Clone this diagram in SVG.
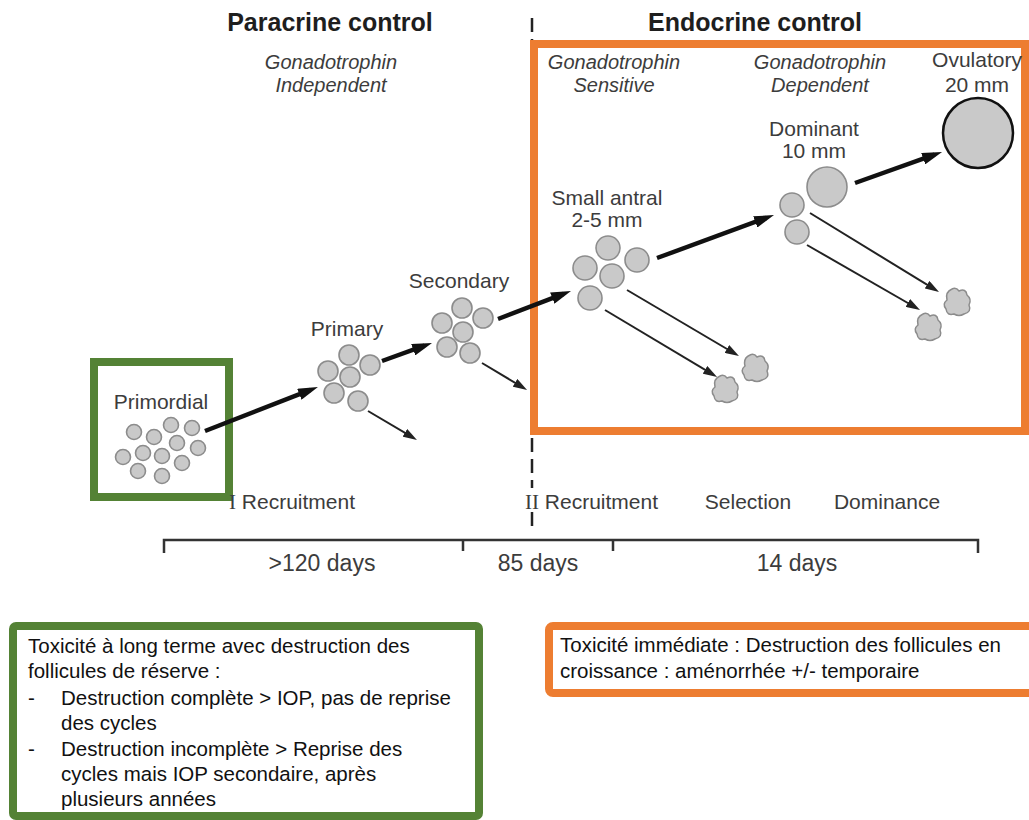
<svg xmlns="http://www.w3.org/2000/svg" xmlns:xlink="http://www.w3.org/1999/xlink" width="1029" height="820" viewBox="0 0 1029 820">
<style>
text{font-family:"Liberation Sans",Arial,sans-serif}
.title{font-size:25px;font-weight:bold;fill:#1e1e1e;text-anchor:middle}
.hdr{font-size:20px;font-style:italic;fill:#3c3c3c;text-anchor:middle}
.lbl{font-size:21px;fill:#3c3c3c;text-anchor:middle}
.row{font-size:21px;fill:#3c3c3c}
.rn{font-family:"Liberation Serif","Times New Roman",serif;font-size:21px}
.days{font-size:23px;fill:#3c3c3c;text-anchor:middle}
.box{font-size:20.5px;fill:#111}
.f{fill:#c9c9c9;stroke:#8c8c8c;stroke-width:1.6}
.thick{stroke:#111;stroke-width:4.5;fill:none;marker-end:url(#hb)}
.thin{stroke:#222;stroke-width:2;fill:none;marker-end:url(#ht)}
.gbox{fill:none;stroke:#548235;stroke-width:8}
.obox{fill:none;stroke:#ed7d31;stroke-width:8}
.tl{stroke:#333;stroke-width:2.5;fill:none}
.dash{stroke:#222;stroke-width:2.5;stroke-dasharray:14 7}
</style>
<defs>
<marker id="hb" markerUnits="userSpaceOnUse" markerWidth="20" markerHeight="12" refX="12" refY="6" orient="auto"><path d="M0,0 L20,6 L0,12 Z" fill="#111"/></marker>
<marker id="ht" markerUnits="userSpaceOnUse" markerWidth="14" markerHeight="9" refX="8" refY="4.5" orient="auto"><path d="M0,0 L14,4.5 L0,9 Z" fill="#222"/></marker>
<path id="blob" fill="#c9c9c9" stroke="#8c8c8c" stroke-width="1.5" stroke-linejoin="round" d="M-5,-13 Q-1,-15 2,-11 Q9,-14 10,-7 Q15,-3 12,3 Q15,10 7,12 Q2,15 -3,12 Q-10,14 -11,7 Q-15,2 -10,-2 Q-12,-10 -5,-13 Z"/>
</defs>

<g id="divider">
<line class="dash" x1="532" y1="18" x2="532" y2="488"/>
<line class="dash" x1="532" y1="512" x2="532" y2="532"/>
</g>

<g id="titles">
<text class="title" x="330" y="31">Paracrine control</text>
<text class="title" x="755" y="31">Endocrine control</text>
<text class="hdr" x="331" y="69">Gonadotrophin</text>
<text class="hdr" x="331" y="92">Independent</text>
<text class="hdr" x="614" y="69">Gonadotrophin</text>
<text class="hdr" x="614" y="92">Sensitive</text>
<text class="hdr" x="820" y="69">Gonadotrophin</text>
<text class="hdr" x="820" y="92">Dependent</text>
</g>

<g id="paracrine-box"><rect class="gbox" x="94" y="362" width="135" height="135"/></g>
<g id="endocrine-box"><rect class="obox" x="534" y="44" width="491" height="387"/></g>

<g id="primordial">
<text class="lbl" x="161" y="409">Primordial</text>
<circle class="f" cx="134" cy="432" r="7.5"/>
<circle class="f" cx="154" cy="437" r="7.5"/>
<circle class="f" cx="171" cy="425" r="7.5"/>
<circle class="f" cx="192" cy="428" r="7.5"/>
<circle class="f" cx="177" cy="443" r="7.5"/>
<circle class="f" cx="198" cy="448" r="7.5"/>
<circle class="f" cx="123" cy="457" r="7.5"/>
<circle class="f" cx="143" cy="453" r="7.5"/>
<circle class="f" cx="162" cy="456" r="7.5"/>
<circle class="f" cx="182" cy="463" r="7.5"/>
<circle class="f" cx="138" cy="471" r="7.5"/>
<circle class="f" cx="162" cy="476" r="7.5"/>
</g>

<g id="primary">
<text class="lbl" x="347" y="336">Primary</text>
<circle class="f" cx="349" cy="355" r="10"/>
<circle class="f" cx="370" cy="365" r="10"/>
<circle class="f" cx="328" cy="371" r="10"/>
<circle class="f" cx="350" cy="377" r="10"/>
<circle class="f" cx="334" cy="393" r="10"/>
<circle class="f" cx="358" cy="401" r="10"/>
</g>

<g id="secondary">
<text class="lbl" x="459" y="288">Secondary</text>
<circle class="f" cx="462" cy="308" r="10"/>
<circle class="f" cx="483" cy="318" r="10"/>
<circle class="f" cx="442" cy="323" r="10"/>
<circle class="f" cx="463" cy="332" r="10"/>
<circle class="f" cx="447" cy="347" r="10"/>
<circle class="f" cx="470" cy="353" r="10"/>
</g>

<g id="small-antral">
<text class="lbl" x="607" y="205">Small antral</text>
<text class="lbl" x="607" y="227">2-5 mm</text>
<circle class="f" cx="608" cy="248" r="12"/>
<circle class="f" cx="637" cy="260" r="12"/>
<circle class="f" cx="585" cy="268" r="12"/>
<circle class="f" cx="612" cy="276" r="12"/>
<circle class="f" cx="590" cy="298" r="12"/>
</g>

<g id="dominant">
<text class="lbl" x="814" y="136">Dominant</text>
<text class="lbl" x="814" y="158">10 mm</text>
<circle class="f" cx="792" cy="205" r="12"/>
<circle class="f" cx="797" cy="232" r="12"/>
<circle class="f" cx="827" cy="187" r="20" stroke="#333" stroke-width="2"/>
</g>

<g id="ovulatory">
<text class="lbl" x="977" y="67">Ovulatory</text>
<text class="lbl" x="977" y="92">20 mm</text>
<circle cx="978" cy="133" r="35" fill="#c9c9c9" stroke="#111" stroke-width="2.5"/>
</g>

<g id="atretic">
<use xlink:href="#blob" transform="translate(755,368)"/>
<use xlink:href="#blob" transform="translate(725,389)"/>
<use xlink:href="#blob" transform="translate(957,302)"/>
<use xlink:href="#blob" transform="translate(928,327)"/>
</g>

<g id="connectors">
<line class="thick" x1="205" y1="431" x2="310.5" y2="389.9"/>
<line class="thick" x1="382" y1="361" x2="424.5" y2="345.7"/>
<line class="thick" x1="498" y1="319" x2="563.5" y2="293.9"/>
<line class="thick" x1="657" y1="258" x2="766.5" y2="217.8"/>
<line class="thick" x1="855" y1="183" x2="934.5" y2="154.7"/>
<line class="thin" x1="368" y1="411" x2="411.8" y2="436.9"/>
<line class="thin" x1="482" y1="363" x2="521.9" y2="386.9"/>
<line class="thin" x1="627" y1="290" x2="733.8" y2="353"/>
<line class="thin" x1="605" y1="310" x2="711.9" y2="373.9"/>
<line class="thin" x1="810" y1="213" x2="933.9" y2="288.9"/>
<line class="thin" x1="807" y1="245" x2="914.8" y2="307"/>
</g>

<g id="phases">
<text class="row" x="229" y="509"><tspan class="rn">I</tspan> Recruitment</text>
<text class="row" x="525" y="509"><tspan class="rn">II</tspan> Recruitment</text>
<text class="row" x="748" y="509" text-anchor="middle">Selection</text>
<text class="row" x="887" y="509" text-anchor="middle">Dominance</text>
</g>

<g id="timeline">
<path class="tl" d="M164,553 L164,540 L978,540 L978,553 M463,540 L463,551 M613,540 L613,551"/>
<text class="days" x="322" y="571">&gt;120 days</text>
<text class="days" x="538" y="571">85 days</text>
<text class="days" x="797" y="571">14 days</text>
</g>

<g id="long-term-box">
<rect class="gbox" x="13" y="626" width="466" height="190" rx="3"/>
<text class="box" x="28" y="653">Toxicité à long terme avec destruction des</text>
<text class="box" x="28" y="678">follicules de réserve :</text>
<text class="box" x="28" y="705">-</text>
<text class="box" x="61" y="705">Destruction complète &gt; IOP, pas de reprise</text>
<text class="box" x="61" y="730">des cycles</text>
<text class="box" x="28" y="756">-</text>
<text class="box" x="61" y="756">Destruction incomplète &gt; Reprise des</text>
<text class="box" x="61" y="781">cycles mais IOP secondaire, après</text>
<text class="box" x="61" y="806">plusieurs années</text>
</g>

<g id="immediate-box">
<rect class="obox" x="549" y="626" width="490" height="67" rx="4"/>
<text class="box" x="560" y="652">Toxicité immédiate : Destruction des follicules en</text>
<text class="box" x="560" y="678">croissance : aménorrhée +/- temporaire</text>
</g>
</svg>
